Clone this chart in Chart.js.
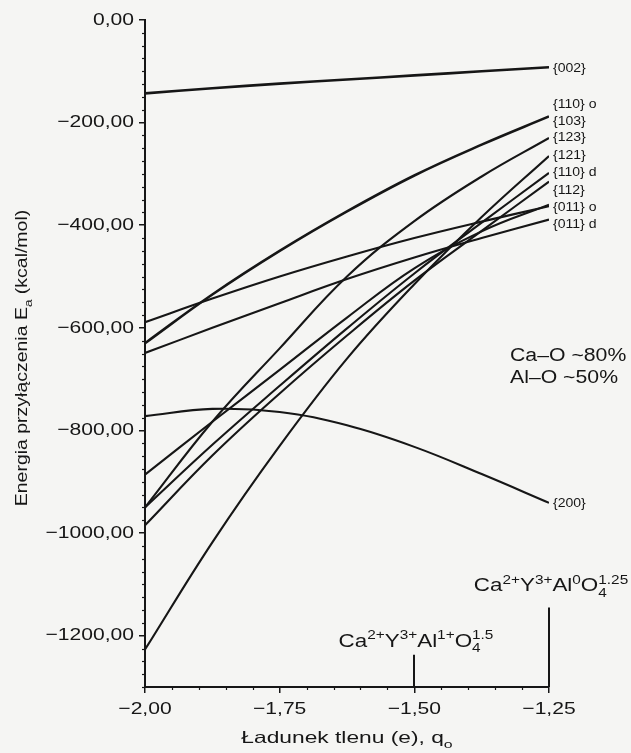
<!DOCTYPE html>
<html>
<head>
<meta charset="utf-8">
<script src="https://cdn.jsdelivr.net/npm/chart.js@4.4.1/dist/chart.umd.min.js"></script>
<style>
  html, body { margin: 0; padding: 0; background: #f5f5f3; }
  #wrap { width: 631px; height: 753px; }
</style>
</head>
<body>
<div id="wrap"><canvas id="chart" width="631" height="753"></canvas></div>
<script>
// oxygen charge q_o (x axis)
const charge = [-2.0, -1.875, -1.75, -1.625, -1.5, -1.375, -1.25];

// attachment energy E_a (kcal/mol) per surface
const e002  = [-143, -133, -124, -116, -108, -100, -92];
const e110o = [-886, -783, -682, -580, -484, -412, -360];
const e103  = [-630, -535, -450, -373, -303, -243, -188];
const e123  = [-950, -783, -640, -500, -392, -305, -230];
const e121  = [-1227, -1018, -830, -660, -515, -384, -265];
const e110d = [-950, -828, -713, -601, -494, -395, -298];
const e112  = [-985, -849, -728, -615, -508, -411, -315];
const e011o = [-589, -543, -500, -461, -425, -393, -363];
const e011d = [-649, -600, -552, -505, -463, -425, -389];
const e200  = [-772, -758, -764, -790, -832, -885, -941];

const surfaces = ['{002}', '{110} o', '{103}', '{123}', '{121}', '{110} d', '{112}', '{011} o', '{011} d', '{200}'];
const energies = [e002, e110o, e103, e123, e121, e110d, e112, e011o, e011d, e200];

const yTicks = [0, -200, -400, -600, -800, -1000, -1200];
const xTicks = [-2.0, -1.75, -1.5, -1.25];

const INK = '#161616';
const FONT = '"Liberation Sans", Arial, sans-serif';

function fmt(v) {
    const s = Math.abs(v).toFixed(2).replace('.', ',');
    return v < 0 ? '\u2212' + s : s;
}

// draw horizontally stretched text, returns drawn width
function sText(ctx, str, x, y, size, sx, align) {
    ctx.save();
    ctx.font = size + 'px ' + FONT;
    const w = ctx.measureText(str).width * sx;
    let x0 = x;
    if (align === 'right') x0 = x - w;
    if (align === 'center') x0 = x - w / 2;
    ctx.translate(x0, y);
    ctx.scale(sx, 1);
    ctx.textAlign = 'left';
    ctx.fillText(str, 0, 0);
    ctx.restore();
    return w;
}

// runs: [text, kind] kind 0 = normal, 1 = sup, 2 = sub, 3 = stacked [sup, sub]
function richWidth(ctx, runs, M, S, sx) {
    let w = 0;
    runs.forEach(([t, k]) => {
        if (k === 0) { ctx.font = M + 'px ' + FONT; w += ctx.measureText(t).width * sx; }
        else if (k === 3) {
            ctx.font = S + 'px ' + FONT;
            w += Math.max(ctx.measureText(t[0]).width, ctx.measureText(t[1]).width) * sx;
        } else { ctx.font = S + 'px ' + FONT; w += ctx.measureText(t).width * sx; }
    });
    return w;
}

function richText(ctx, runs, x, y, M, S, sx, align) {
    const w = richWidth(ctx, runs, M, S, sx);
    let cx = align === 'center' ? x - w / 2 : (align === 'right' ? x - w : x);
    runs.forEach(([t, k]) => {
        if (k === 0) cx += sText(ctx, t, cx, y, M, sx, 'left');
        else if (k === 1) cx += sText(ctx, t, cx, y - M * 0.42, S, sx, 'left');
        else if (k === 2) cx += sText(ctx, t, cx, y + M * 0.28, S, sx, 'left');
        else {
            const a = sText(ctx, t[0], cx, y - M * 0.45, S, sx, 'left');
            const b = sText(ctx, t[1], cx, y + M * 0.3, S, sx, 'left');
            cx += Math.max(a, b);
        }
    });
}

const decor = {
    id: 'decor',
    afterDraw(chart, args, opts) {
        const ctx = chart.ctx;
        const xs = chart.scales.x, ys = chart.scales.y;
        const a = chart.chartArea;
        ctx.save();
        ctx.strokeStyle = INK;
        ctx.fillStyle = INK;

        // minor ticks
        ctx.lineWidth = 1.2;
        for (let v = -1300; v <= 0; v += 25) {
            if (v % 200 === 0) continue;
            const py = Math.round(ys.getPixelForValue(v)) + 0.5;
            ctx.beginPath(); ctx.moveTo(a.left - 3, py); ctx.lineTo(a.left, py); ctx.stroke();
        }
        for (let i = 0; i <= 15; i++) {
            if (i % 5 === 0) continue;
            const px = Math.round(xs.getPixelForValue(-2 + i * 0.05)) + 0.5;
            ctx.beginPath(); ctx.moveTo(px, a.bottom); ctx.lineTo(px, a.bottom + 3); ctx.stroke();
        }

        // tick labels
        ctx.textBaseline = 'middle';
        yTicks.forEach(v => sText(ctx, fmt(v), a.left - 11, ys.getPixelForValue(v), 17, 1.24, 'right'));
        xTicks.forEach(v => sText(ctx, fmt(v), xs.getPixelForValue(v), a.bottom + 22, 17, 1.24, 'center'));

        // axis titles
        ctx.textBaseline = 'alphabetic';
        richText(ctx, [['\u0141adunek tlenu (e), q', 0], ['o', 2]], (a.left + a.right) / 2, 743, 16.5, 11.5, 1.38, 'center');
        ctx.save();
        ctx.translate(27, 358);
        ctx.rotate(-Math.PI / 2);
        richText(ctx, [['Energia przy\u0142\u0105czenia E', 0], ['a', 2], [' (kcal/mol)', 0]], 0, 0, 16.5, 11.5, 1.18, 'center');
        ctx.restore();

        // surface labels at the line ends
        opts.endLabels.forEach(([t, lvl]) => {
            sText(ctx, t, a.right + 4, ys.getPixelForValue(lvl) + 4.5, 13, 1.08, 'left');
        });

        // Ca-O / Al-O note
        sText(ctx, 'Ca\u2013O ~80%', 510, 361, 18, 1.18, 'left');
        sText(ctx, 'Al\u2013O ~50%', 510, 383, 18, 1.18, 'left');

        // composition markers
        ctx.lineWidth = 2;
        opts.markers.forEach(([q, top, runs, dx, dy]) => {
            const px = Math.round(xs.getPixelForValue(q));
            const pt = ys.getPixelForValue(top);
            ctx.beginPath(); ctx.moveTo(px, pt); ctx.lineTo(px, a.bottom); ctx.stroke();
            richText(ctx, runs, px + dx, pt + dy, 17.5, 12, 1.28, 'center');
        });
        ctx.restore();
    }
};

const datasets = surfaces.map((name, i) => ({
    label: name,
    data: charge.map((q, j) => ({ x: q, y: energies[i][j] })),
    borderColor: INK,
    borderWidth: (name === '{002}' || name === '{103}') ? 2.6 : 2.1,
    pointRadius: 0,
    fill: false,
    tension: 0.4
}));

new Chart(document.getElementById('chart').getContext('2d'), {
    type: 'line',
    data: { datasets: datasets },
    plugins: [decor],
    options: {
        responsive: false,
        animation: false,
        devicePixelRatio: 1,
        layout: { padding: { top: 20, right: 82, bottom: 0, left: 0 } },
        plugins: {
            legend: { display: false },
            tooltip: { enabled: false },
            decor: {
                endLabels: [
                    ['{002}', -92], ['{110} o', -162], ['{103}', -195], ['{123}', -228],
                    ['{121}', -263], ['{110} d', -296], ['{112}', -331], ['{011} o', -364],
                    ['{011} d', -397], ['{200}', -941]
                ],
                markers: [
                    [-1.5, -1237, [['Ca', 0], ['2+', 1], ['Y', 0], ['3+', 1], ['Al', 0], ['1+', 1], ['O', 0], [['1.5', '4'], 3]], 2, -8],
                    [-1.25, -1145, [['Ca', 0], ['2+', 1], ['Y', 0], ['3+', 1], ['Al', 0], ['0', 1], ['O', 0], [['1.25', '4'], 3]], 2, -16]
                ]
            }
        },
        scales: {
            x: {
                type: 'linear',
                min: -2,
                max: -1.25,
                afterBuildTicks: s => { s.ticks = xTicks.map(v => ({ value: v })); },
                afterFit: s => { s.height = 66; },
                ticks: { display: false },
                grid: { drawOnChartArea: false, drawTicks: true, tickLength: 6, color: INK, lineWidth: 1.5 },
                border: { display: true, color: INK, width: 2 }
            },
            y: {
                type: 'linear',
                min: -1300,
                max: 0,
                afterBuildTicks: s => { s.ticks = yTicks.map(v => ({ value: v })); },
                afterFit: s => { s.width = 145; },
                ticks: { display: false },
                grid: { drawOnChartArea: false, drawTicks: true, tickLength: 6, color: INK, lineWidth: 1.5 },
                border: { display: true, color: INK, width: 2 }
            }
        }
    }
});
</script>
</body>
</html>
